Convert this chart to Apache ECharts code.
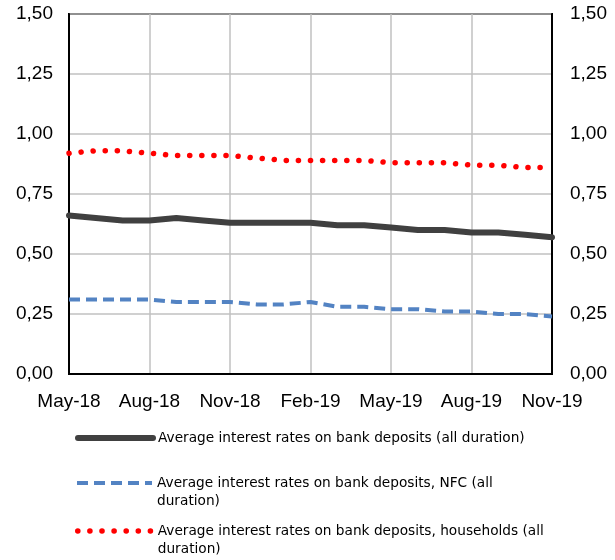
<!DOCTYPE html>
<html><head><meta charset="utf-8">
<script src="https://cdn.jsdelivr.net/npm/echarts@6/dist/echarts.min.js"></script>
<style>html,body{margin:0;padding:0;background:#fff}#c{width:615px;height:560px}</style>
</head><body><div id="c"></div>
<script>
var categories = ['May-18','Jun-18','Jul-18','Aug-18','Sep-18','Oct-18','Nov-18','Dec-18','Jan-19','Feb-19','Mar-19','Apr-19','May-19','Jun-19','Jul-19','Aug-19','Sep-19','Oct-19','Nov-19'];
var allDeposits = [0.66,0.65,0.64,0.64,0.65,0.64,0.63,0.63,0.63,0.63,0.62,0.62,0.61,0.60,0.60,0.59,0.59,0.58,0.57];
var nfcDeposits = [0.31,0.31,0.31,0.31,0.30,0.30,0.30,0.29,0.29,0.30,0.28,0.28,0.27,0.27,0.26,0.26,0.25,0.25,0.24];
var householdDeposits = [0.92,0.93,0.93,0.92,0.91,0.91,0.91,0.90,0.89,0.89,0.89,0.89,0.88,0.88,0.88,0.87,0.87,0.86,0.86];
var seriesNames = ['Average interest rates on bank deposits (all duration)','Average interest rates on bank deposits, NFC (all duration)','Average interest rates on bank deposits, households (all duration)'];

var chart = echarts.init(document.getElementById('c'));
var fmt = function(v){return v.toFixed(2).replace('.',',');};
var font = 'Liberation Sans, Arial, sans-serif';
var legendFont = 'DejaVu Sans, sans-serif';
function yAx(pos){
  return {type:'value', position:pos, min:0, max:1.5, interval:0.25,
    axisLine:{show:true, lineStyle:{color:'#000', width:2}},
    axisTick:{show:false},
    axisLabel:{formatter:fmt, color:'#000', fontSize:19, fontFamily:font, margin:pos==='left'?16:18},
    splitLine:{show:pos==='left', lineStyle:{color:'#c0c0c0', width:1.5}}};
}
var colors = ['#404040','#5383c3','#ff0000'];
var lineTypes = ['solid',[11,6],[0.1,12]];
var lineWidths = [6,4,5.5];
var tops = [424, 451, 499];
var legends = seriesNames.map(function(n,i){
  return {orient:'vertical', left:70, top:tops[i], itemWidth:75, itemHeight:12, itemGap:0,
    data:[n],
    formatter:function(name){ return i===0 ? name : '\n' + name; },
    itemStyle:{color:'rgba(0,0,0,0)', borderWidth:0, opacity:0},
    lineStyle:{color:colors[i], width:lineWidths[i], type:lineTypes[i], cap:i===1?'butt':'round', opacity:1},
    textStyle:{fontSize:13.7, fontFamily:legendFont, color:'#000', width:403, overflow:'break', lineHeight:18}};
});
chart.setOption({
  animation:false,
  grid:{left:69, right:63, top:14, bottom:186, containLabel:false, show:true, borderColor:'#000', borderWidth:2, backgroundColor:'transparent'},
  xAxis:{type:'category', data:categories, boundaryGap:false,
    axisLine:{lineStyle:{color:'#000', width:2}}, axisTick:{show:false},
    axisLabel:{interval:2, color:'#000', fontSize:19, fontFamily:font, margin:18},
    splitLine:{show:true, interval:2, lineStyle:{color:'#c0c0c0', width:1.5}}},
  yAxis:[yAx('left'), yAx('right')],
  legend:legends,
  series:[
    {name:seriesNames[0], type:'line', data:allDeposits, symbol:'none', z:3,
      lineStyle:{color:colors[0], width:lineWidths[0], cap:'round'}, itemStyle:{color:colors[0]}},
    {name:seriesNames[1], type:'line', data:nfcDeposits, symbol:'none', z:2,
      lineStyle:{color:colors[1], width:lineWidths[1], type:lineTypes[1]}, itemStyle:{color:colors[1]}},
    {name:seriesNames[2], type:'line', data:householdDeposits, symbol:'none', z:2,
      lineStyle:{color:colors[2], width:lineWidths[2], type:lineTypes[2], cap:'round'}, itemStyle:{color:colors[2]}}
  ]
});
</script></body></html>
